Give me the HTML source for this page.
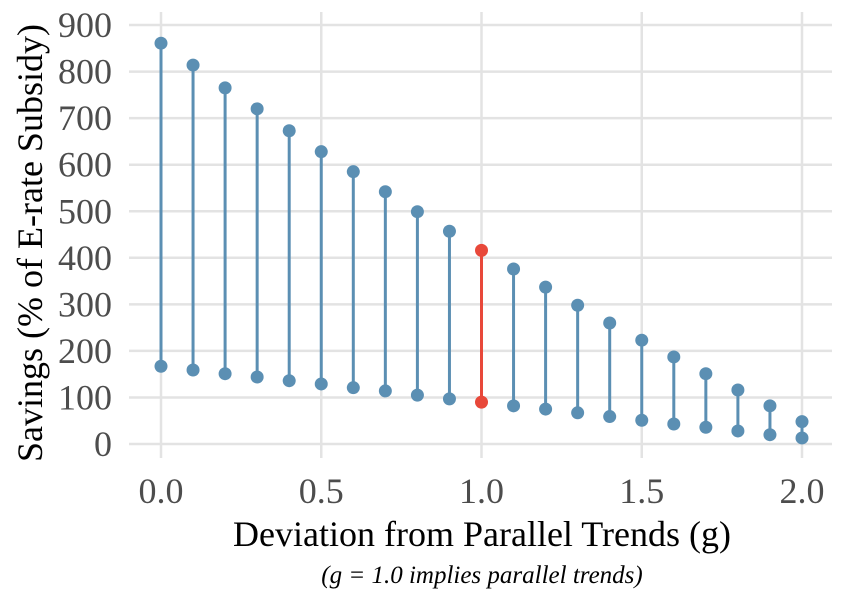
<!DOCTYPE html>
<html><head><meta charset="utf-8"><style>
body{margin:0;background:#fff}
svg text{font-family:"Liberation Serif",serif}
</style></head><body>
<svg id="chart" width="843" height="591" viewBox="0 0 843 591">
<g id="grid"></g><g id="marks"></g><g id="axes"></g>
<text x="482" y="546" font-size="36" text-anchor="middle" fill="#000">Deviation from Parallel Trends (g)</text>
<text x="482" y="583" font-size="25" font-style="italic" text-anchor="middle" fill="#000">(g = 1.0 implies parallel trends)</text>
<text transform="translate(42,243) rotate(-90)" font-size="36" text-anchor="middle" fill="#000">Savings (% of E-rate Subsidy)</text>
</svg>
<script>
const gValues=[0,0.1,0.2,0.3,0.4,0.5,0.6,0.7,0.8,0.9,1.0,1.1,1.2,1.3,1.4,1.5,1.6,1.7,1.8,1.9,2.0];
const upperValues=[861,814,765,720,673,628,585,542,499,457,416,376,337,298,260,223,187,151,116,82,48];
const lowerValues=[167,159,151,144,136,129,121,114,105,97,90,82,75,67,59,51,43,36,28,20,13];
const yTicks=[0,100,200,300,400,500,600,700,800,900];
const xTicks=[0,0.5,1.0,1.5,2.0];
const xTickLabels=["0.0","0.5","1.0","1.5","2.0"];
const NS="http://www.w3.org/2000/svg";
const X=v=>161+v*(802-161)/2;
const Y=v=>444-v*0.4655;
function mk(tag,attrs,parent){const e=document.createElementNS(NS,tag);for(const k in attrs)e.setAttribute(k,attrs[k]);parent.appendChild(e);return e;}
const grid=document.getElementById('grid'),marks=document.getElementById('marks'),axes=document.getElementById('axes');
yTicks.forEach(t=>{
  const l=mk('line',{x1:129,x2:832,y1:Y(t),y2:Y(t),stroke:'#e3e3e3','stroke-width':2.5},grid);
  
  
  const tx=mk('text',{x:112,y:Y(t)+12,'font-size':36,'text-anchor':'end',fill:'#4d4d4d'},axes);
  tx.textContent=t;
  
  
});
xTicks.forEach((t,i)=>{
  const l=mk('line',{x1:X(t),x2:X(t),y1:12,y2:458,stroke:'#e3e3e3','stroke-width':2.5},grid);
  
  
  const tx=mk('text',{x:X(t),y:503,'font-size':36,'text-anchor':'middle',fill:'#4d4d4d'},axes);
  tx.textContent=xTickLabels[i];
  
  
});
gValues.forEach((g,i)=>{
  const c=Math.abs(g-1)<1e-9?'#e8483a':'#5b8fb3';
  const l=mk('line',{x1:X(g),x2:X(g),y1:Y(upperValues[i]),y2:Y(lowerValues[i]),stroke:c,'stroke-width':3},marks);
  
  
  const a=mk('circle',{cx:X(g),cy:Y(upperValues[i]),r:6.5,fill:c},marks);
  
  
  const b=mk('circle',{cx:X(g),cy:Y(lowerValues[i]),r:6.5,fill:c},marks);
  
  
});
</script>
</body></html>
